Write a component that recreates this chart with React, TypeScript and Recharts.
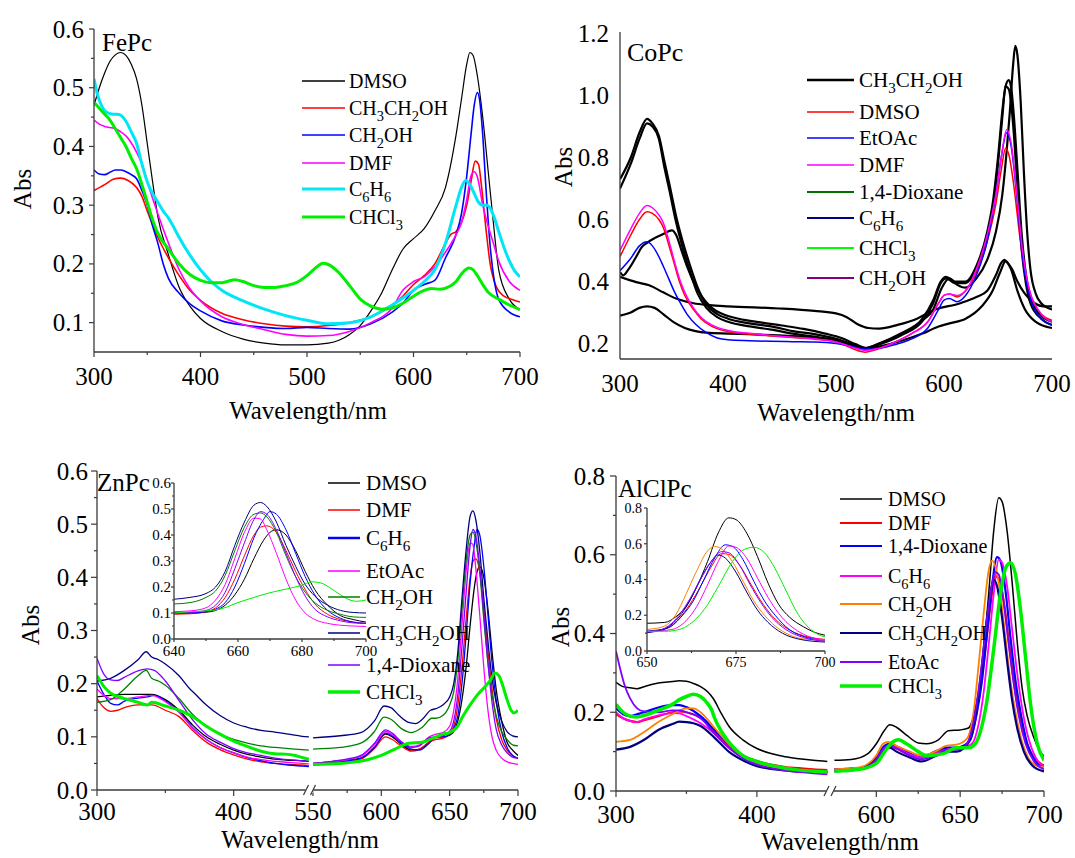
import React from "react";
import { Line, LineChart, XAxis, YAxis } from "recharts";

type Pt = [number, number];

// ---------- FePc (wavelength nm, Abs) ----------
const feDMSO: Pt[] = [[300,0.47],[305,0.5],[310,0.525],[315,0.545],[320,0.556],[325,0.56],[330,0.555],[335,0.54],[340,0.515],[345,0.47],[350,0.405],[355,0.34],[360,0.28],[370,0.215],[380,0.16],[390,0.128],[400,0.107],[420,0.085],[440,0.072],[460,0.065],[480,0.062],[500,0.062],[520,0.065],[530,0.07],[540,0.08],[550,0.095],[560,0.12],[570,0.15],[580,0.19],[590,0.225],[600,0.243],[610,0.26],[620,0.29],[630,0.33],[640,0.42],[645,0.48],[650,0.54],[653,0.56],[656,0.555],[660,0.52],[665,0.45],[670,0.36],[675,0.27],[680,0.19],[690,0.14],[700,0.122]];
const feEtOH: Pt[] = [[300,0.325],[310,0.335],[318,0.344],[325,0.346],[332,0.342],[340,0.33],[345,0.315],[350,0.29],[360,0.245],[370,0.21],[380,0.18],[390,0.155],[400,0.138],[420,0.116],[440,0.105],[460,0.098],[480,0.094],[500,0.093],[520,0.095],[540,0.1],[560,0.11],[580,0.13],[590,0.145],[600,0.165],[610,0.18],[620,0.2],[630,0.235],[635,0.25],[640,0.255],[645,0.27],[650,0.3],[654,0.34],[658,0.375],[661,0.37],[664,0.33],[668,0.26],[672,0.2],[678,0.16],[685,0.145],[692,0.14],[700,0.135]];
const feMeOH: Pt[] = [[300,0.36],[305,0.353],[310,0.352],[315,0.356],[320,0.36],[325,0.36],[330,0.357],[335,0.352],[340,0.345],[345,0.325],[350,0.3],[355,0.265],[360,0.235],[365,0.2],[370,0.175],[380,0.15],[390,0.132],[400,0.12],[420,0.103],[440,0.096],[460,0.092],[480,0.09],[500,0.092],[520,0.09],[540,0.089],[560,0.098],[580,0.118],[590,0.133],[600,0.155],[610,0.165],[620,0.172],[630,0.21],[640,0.25],[645,0.285],[650,0.35],[654,0.42],[657,0.47],[660,0.492],[662,0.48],[665,0.42],[668,0.33],[672,0.23],[676,0.17],[680,0.14],[690,0.118],[700,0.11]];
const feDMF: Pt[] = [[300,0.445],[305,0.438],[310,0.434],[320,0.43],[325,0.425],[330,0.418],[340,0.39],[345,0.37],[350,0.34],[360,0.285],[370,0.235],[380,0.19],[390,0.158],[400,0.137],[420,0.11],[440,0.097],[460,0.088],[480,0.08],[500,0.077],[520,0.078],[540,0.085],[560,0.1],[580,0.125],[590,0.155],[600,0.17],[610,0.178],[620,0.195],[630,0.22],[640,0.25],[645,0.27],[650,0.31],[654,0.35],[657,0.357],[660,0.348],[665,0.3],[670,0.265],[675,0.235],[680,0.205],[690,0.17],[700,0.155]];
const feC6H6: Pt[] = [[300,0.515],[303,0.49],[307,0.47],[312,0.458],[318,0.455],[322,0.455],[326,0.452],[330,0.443],[335,0.425],[340,0.405],[345,0.37],[350,0.34],[355,0.32],[360,0.305],[365,0.29],[370,0.278],[375,0.262],[380,0.245],[390,0.215],[400,0.19],[410,0.17],[420,0.155],[440,0.137],[460,0.123],[480,0.112],[500,0.104],[520,0.098],[540,0.1],[560,0.11],[580,0.13],[600,0.155],[610,0.17],[620,0.19],[630,0.235],[640,0.3],[645,0.33],[649,0.342],[653,0.335],[657,0.32],[661,0.305],[665,0.3],[669,0.3],[672,0.295],[676,0.278],[680,0.255],[685,0.228],[690,0.205],[695,0.188],[700,0.178]];
const feCHCl3: Pt[] = [[300,0.475],[305,0.465],[310,0.455],[315,0.445],[320,0.43],[325,0.415],[330,0.4],[335,0.38],[340,0.362],[345,0.335],[350,0.305],[355,0.275],[360,0.252],[370,0.225],[380,0.2],[390,0.182],[400,0.172],[410,0.168],[420,0.168],[425,0.17],[432,0.173],[440,0.17],[450,0.163],[460,0.16],[470,0.16],[480,0.163],[490,0.168],[500,0.18],[510,0.196],[515,0.201],[520,0.199],[530,0.185],[540,0.163],[550,0.14],[560,0.128],[570,0.123],[580,0.125],[590,0.133],[600,0.145],[610,0.155],[617,0.158],[625,0.157],[632,0.16],[640,0.17],[646,0.185],[652,0.193],[656,0.19],[660,0.18],[665,0.165],[670,0.152],[680,0.14],[690,0.13],[700,0.122]];

// ---------- CoPc ----------
const coEtOH: Pt[] = [[300,0.73],[310,0.8],[318,0.88],[325,0.925],[330,0.91],[336,0.87],[341,0.79],[346,0.71],[352,0.61],[358,0.53],[365,0.45],[372,0.38],[380,0.325],[390,0.295],[400,0.28],[420,0.265],[440,0.255],[460,0.24],[480,0.23],[500,0.215],[515,0.198],[527,0.185],[540,0.2],[560,0.23],[580,0.28],[590,0.34],[597,0.4],[602,0.415],[610,0.4],[620,0.4],[630,0.45],[640,0.56],[645,0.65],[650,0.8],[654,0.95],[657,1.03],[660,1.05],[662,1.03],[665,0.92],[668,0.76],[672,0.55],[676,0.42],[680,0.35],[690,0.29],[700,0.27]];
const coDMSO: Pt[] = [[300,0.48],[310,0.55],[318,0.6],[325,0.625],[330,0.62],[336,0.6],[340,0.575],[345,0.52],[350,0.46],[355,0.4],[360,0.355],[368,0.31],[375,0.28],[385,0.255],[400,0.238],[420,0.23],[440,0.224],[460,0.219],[480,0.214],[500,0.205],[510,0.192],[520,0.177],[527,0.172],[535,0.178],[550,0.198],[570,0.232],[585,0.27],[595,0.33],[600,0.355],[605,0.36],[612,0.35],[620,0.37],[630,0.43],[640,0.53],[648,0.65],[653,0.76],[657,0.83],[660,0.81],[665,0.7],[670,0.55],[675,0.43],[680,0.36],[690,0.295],[700,0.275]];
const coEtOAc: Pt[] = [[300,0.435],[310,0.475],[318,0.515],[325,0.528],[330,0.515],[336,0.48],[340,0.45],[345,0.41],[350,0.37],[356,0.33],[362,0.295],[370,0.262],[380,0.235],[390,0.218],[400,0.212],[420,0.209],[440,0.207],[460,0.206],[480,0.205],[500,0.2],[515,0.19],[527,0.182],[540,0.185],[555,0.197],[570,0.215],[585,0.25],[595,0.31],[600,0.34],[605,0.345],[612,0.335],[620,0.355],[630,0.42],[640,0.53],[648,0.68],[653,0.8],[658,0.88],[662,0.84],[667,0.69],[672,0.5],[678,0.37],[690,0.28],[700,0.26]];
const coDMF: Pt[] = [[300,0.5],[310,0.57],[318,0.62],[325,0.645],[330,0.638],[336,0.615],[340,0.59],[345,0.535],[350,0.47],[355,0.41],[360,0.365],[368,0.315],[375,0.285],[385,0.26],[400,0.242],[420,0.233],[440,0.226],[460,0.22],[480,0.215],[500,0.205],[515,0.188],[527,0.178],[540,0.185],[555,0.205],[570,0.232],[585,0.27],[595,0.33],[600,0.355],[605,0.36],[612,0.355],[620,0.37],[630,0.44],[640,0.55],[648,0.68],[653,0.8],[658,0.89],[662,0.85],[667,0.7],[672,0.52],[678,0.39],[690,0.295],[700,0.27]];
const coDiox: Pt[] = [[300,0.7],[310,0.78],[318,0.86],[325,0.91],[330,0.9],[336,0.86],[341,0.77],[346,0.69],[352,0.59],[358,0.51],[365,0.43],[372,0.36],[380,0.315],[390,0.285],[400,0.27],[420,0.255],[440,0.245],[460,0.232],[480,0.222],[500,0.21],[515,0.195],[527,0.183],[540,0.197],[560,0.226],[580,0.272],[590,0.33],[597,0.395],[602,0.41],[610,0.395],[620,0.395],[630,0.44],[640,0.54],[645,0.63],[650,0.78],[654,0.93],[657,1.03],[660,1.02],[662,0.98],[665,0.86],[668,0.7],[672,0.5],[676,0.39],[680,0.33],[690,0.28],[700,0.26]];
const coC6H6: Pt[] = [[300,0.43],[303,0.42],[308,0.44],[315,0.48],[320,0.51],[325,0.525],[332,0.54],[340,0.553],[348,0.565],[352,0.55],[357,0.5],[362,0.45],[368,0.4],[375,0.355],[385,0.315],[395,0.295],[410,0.28],[430,0.268],[450,0.258],[470,0.247],[490,0.232],[505,0.218],[518,0.198],[527,0.186],[540,0.2],[560,0.232],[580,0.275],[590,0.31],[598,0.38],[605,0.41],[612,0.39],[620,0.38],[630,0.41],[640,0.47],[648,0.56],[654,0.68],[658,0.82],[661,0.95],[664,1.1],[666,1.16],[668,1.13],[671,0.98],[674,0.75],[677,0.56],[680,0.44],[685,0.36],[690,0.33],[700,0.31]];
const coCHCl3: Pt[] = [[300,0.415],[315,0.398],[327,0.388],[340,0.365],[352,0.345],[368,0.33],[383,0.324],[400,0.32],[447,0.313],[480,0.305],[500,0.297],[510,0.285],[520,0.262],[530,0.25],[540,0.248],[557,0.26],[575,0.28],[590,0.307],[615,0.33],[630,0.35],[640,0.37],[648,0.42],[653,0.46],[656,0.47],[659,0.46],[663,0.44],[668,0.4],[675,0.36],[684,0.33],[692,0.32],[700,0.32]];
const coMeOH: Pt[] = [[300,0.29],[310,0.3],[318,0.315],[325,0.32],[332,0.315],[340,0.295],[350,0.268],[360,0.25],[370,0.24],[380,0.235],[400,0.232],[420,0.23],[440,0.227],[460,0.224],[480,0.22],[500,0.21],[515,0.196],[527,0.182],[540,0.19],[560,0.208],[580,0.232],[595,0.255],[605,0.265],[620,0.28],[635,0.32],[645,0.37],[652,0.43],[657,0.465],[662,0.44],[668,0.37],[675,0.31],[685,0.27],[700,0.25]];

// ---------- ZnPc ----------
const znDMSO: Pt[] = [[300,0.175],[310,0.178],[320,0.18],[330,0.18],[340,0.18],[350,0.17],[360,0.15],[370,0.122],[380,0.1],[390,0.086],[400,0.075],[410,0.067],[420,0.062],[430,0.058],[440,0.056],[450,0.055],[455,0.054],[550,0.05],[570,0.055],[585,0.06],[595,0.08],[603,0.105],[608,0.1],[615,0.085],[622,0.075],[628,0.077],[635,0.09],[640,0.1],[645,0.1],[650,0.103],[653,0.11],[656,0.13],[659,0.17],[662,0.23],[665,0.31],[668,0.38],[670,0.41],[672,0.42],[675,0.4],[678,0.34],[681,0.26],[684,0.19],[688,0.13],[692,0.09],[696,0.075],[700,0.065]];
const znDMF: Pt[] = [[300,0.172],[305,0.155],[310,0.148],[315,0.15],[320,0.155],[330,0.16],[340,0.16],[350,0.15],[360,0.138],[370,0.112],[380,0.09],[390,0.076],[400,0.066],[410,0.058],[420,0.053],[430,0.05],[440,0.048],[450,0.047],[455,0.046],[550,0.047],[570,0.052],[585,0.058],[595,0.078],[603,0.1],[608,0.095],[615,0.082],[622,0.073],[628,0.077],[635,0.09],[640,0.095],[645,0.097],[650,0.105],[653,0.12],[656,0.16],[659,0.23],[662,0.32],[665,0.4],[667,0.43],[669,0.435],[672,0.41],[675,0.34],[678,0.26],[681,0.19],[684,0.135],[688,0.095],[692,0.075],[696,0.065],[700,0.06]];
const znC6H6: Pt[] = [[300,0.205],[305,0.18],[310,0.163],[315,0.16],[320,0.167],[330,0.173],[337,0.175],[342,0.178],[350,0.168],[360,0.147],[370,0.117],[380,0.095],[390,0.08],[400,0.07],[410,0.061],[420,0.055],[430,0.05],[440,0.047],[450,0.045],[455,0.044],[550,0.048],[570,0.053],[585,0.06],[595,0.08],[603,0.107],[608,0.102],[615,0.088],[622,0.077],[628,0.075],[635,0.088],[640,0.1],[645,0.1],[650,0.105],[653,0.115],[656,0.14],[659,0.2],[662,0.29],[665,0.39],[668,0.46],[670,0.49],[672,0.48],[675,0.42],[678,0.33],[681,0.24],[684,0.17],[688,0.11],[692,0.08],[696,0.065],[700,0.06]];
const znEtOAc: Pt[] = [[300,0.19],[305,0.178],[310,0.172],[320,0.172],[330,0.175],[340,0.178],[350,0.166],[360,0.146],[370,0.116],[380,0.095],[390,0.08],[400,0.07],[410,0.062],[420,0.057],[430,0.054],[440,0.052],[450,0.05],[455,0.049],[550,0.05],[570,0.055],[585,0.063],[595,0.085],[603,0.11],[608,0.104],[615,0.09],[622,0.082],[628,0.085],[635,0.1],[640,0.105],[645,0.108],[650,0.12],[653,0.15],[656,0.21],[659,0.31],[662,0.41],[665,0.465],[667,0.462],[669,0.42],[672,0.33],[675,0.23],[678,0.15],[681,0.1],[684,0.075],[688,0.06],[692,0.053],[696,0.05],[700,0.048]];
const znMeOH: Pt[] = [[300,0.165],[310,0.17],[320,0.19],[330,0.215],[336,0.225],[340,0.21],[345,0.205],[350,0.197],[360,0.172],[370,0.142],[380,0.12],[390,0.105],[400,0.095],[410,0.088],[420,0.083],[430,0.08],[440,0.078],[450,0.076],[455,0.075],[550,0.077],[570,0.08],[585,0.088],[595,0.11],[602,0.137],[607,0.133],[615,0.115],[622,0.108],[630,0.118],[637,0.135],[640,0.135],[645,0.14],[650,0.16],[653,0.185],[656,0.245],[659,0.34],[662,0.43],[665,0.48],[667,0.485],[669,0.47],[672,0.41],[675,0.32],[678,0.24],[681,0.18],[684,0.14],[688,0.11],[692,0.095],[696,0.085],[700,0.083]];
const znEtOH: Pt[] = [[300,0.205],[310,0.21],[320,0.225],[330,0.245],[336,0.26],[340,0.25],[345,0.245],[350,0.237],[360,0.215],[368,0.19],[372,0.18],[380,0.16],[390,0.14],[400,0.126],[410,0.118],[420,0.112],[430,0.109],[440,0.105],[450,0.101],[455,0.1],[550,0.098],[570,0.102],[585,0.108],[595,0.13],[602,0.158],[607,0.155],[613,0.14],[620,0.127],[625,0.125],[630,0.133],[636,0.15],[640,0.153],[645,0.16],[650,0.175],[653,0.2],[656,0.26],[659,0.36],[662,0.45],[665,0.515],[667,0.525],[669,0.51],[672,0.45],[675,0.36],[678,0.28],[681,0.21],[684,0.165],[688,0.13],[692,0.11],[696,0.102],[700,0.1]];
const znDiox: Pt[] = [[300,0.248],[305,0.218],[310,0.207],[315,0.206],[320,0.212],[330,0.224],[337,0.228],[342,0.225],[350,0.205],[360,0.168],[370,0.132],[380,0.105],[390,0.09],[400,0.078],[410,0.07],[420,0.065],[430,0.06],[440,0.057],[450,0.055],[455,0.054],[550,0.05],[570,0.056],[585,0.065],[595,0.088],[603,0.113],[608,0.107],[615,0.09],[622,0.08],[628,0.083],[635,0.098],[640,0.1],[645,0.102],[650,0.11],[653,0.13],[656,0.18],[659,0.27],[662,0.37],[665,0.46],[667,0.49],[669,0.48],[672,0.42],[675,0.33],[678,0.24],[681,0.165],[684,0.115],[688,0.085],[692,0.07],[696,0.062],[700,0.06]];
const znCHCl3: Pt[] = [[300,0.215],[305,0.195],[310,0.182],[320,0.172],[330,0.165],[337,0.16],[340,0.165],[350,0.158],[360,0.15],[370,0.138],[380,0.12],[390,0.105],[400,0.092],[410,0.082],[420,0.073],[430,0.068],[440,0.067],[445,0.065],[450,0.061],[455,0.058],[550,0.048],[570,0.05],[590,0.057],[600,0.065],[610,0.077],[620,0.088],[630,0.09],[640,0.1],[645,0.105],[650,0.108],[655,0.117],[660,0.14],[665,0.16],[670,0.178],[675,0.192],[680,0.207],[683,0.22],[686,0.215],[689,0.195],[692,0.17],[695,0.15],[697,0.145],[700,0.15]];

// ---------- AlClPc ----------
const alDMSO: Pt[] = [[300,0.276],[305,0.265],[310,0.262],[315,0.26],[320,0.265],[330,0.274],[340,0.278],[345,0.28],[350,0.279],[355,0.273],[360,0.265],[365,0.252],[369,0.235],[375,0.195],[380,0.165],[390,0.13],[400,0.108],[410,0.095],[420,0.087],[430,0.082],[440,0.078],[450,0.075],[575,0.078],[585,0.08],[595,0.095],[600,0.12],[605,0.155],[608,0.168],[612,0.162],[618,0.142],[625,0.122],[630,0.12],[637,0.13],[643,0.153],[650,0.155],[655,0.16],[658,0.19],[661,0.25],[664,0.36],[667,0.5],[670,0.66],[673,0.745],[675,0.735],[678,0.66],[681,0.53],[684,0.38],[687,0.26],[690,0.19],[694,0.135],[697,0.105],[700,0.088]];
const alDMF: Pt[] = [[300,0.195],[305,0.185],[310,0.178],[315,0.175],[320,0.18],[330,0.19],[340,0.2],[345,0.202],[350,0.2],[360,0.185],[370,0.15],[380,0.115],[390,0.09],[400,0.076],[410,0.067],[420,0.061],[430,0.058],[440,0.055],[450,0.053],[575,0.055],[590,0.058],[600,0.082],[605,0.11],[608,0.115],[612,0.108],[620,0.092],[627,0.085],[635,0.095],[642,0.108],[648,0.108],[652,0.112],[656,0.13],[659,0.18],[662,0.26],[665,0.36],[668,0.47],[671,0.545],[673,0.54],[676,0.48],[679,0.38],[682,0.28],[685,0.2],[689,0.13],[694,0.085],[700,0.065]];
const alDiox: Pt[] = [[300,0.21],[305,0.195],[310,0.19],[315,0.195],[320,0.2],[330,0.212],[340,0.218],[345,0.218],[350,0.213],[360,0.19],[370,0.155],[380,0.12],[390,0.09],[400,0.072],[410,0.062],[420,0.056],[430,0.052],[440,0.05],[450,0.048],[575,0.055],[590,0.058],[600,0.085],[605,0.115],[608,0.12],[612,0.113],[620,0.095],[627,0.085],[635,0.1],[642,0.11],[648,0.11],[652,0.115],[656,0.13],[660,0.2],[663,0.28],[666,0.4],[669,0.52],[672,0.594],[674,0.585],[677,0.51],[680,0.39],[683,0.28],[686,0.2],[690,0.12],[695,0.075],[700,0.06]];
const alC6H6: Pt[] = [[300,0.2],[305,0.185],[310,0.178],[315,0.175],[320,0.182],[330,0.192],[340,0.198],[345,0.197],[350,0.19],[360,0.172],[370,0.145],[380,0.11],[390,0.085],[400,0.07],[410,0.06],[420,0.055],[430,0.052],[440,0.05],[450,0.048],[575,0.055],[590,0.058],[600,0.08],[605,0.11],[609,0.118],[613,0.11],[620,0.093],[627,0.085],[635,0.095],[642,0.105],[648,0.108],[653,0.112],[657,0.12],[661,0.17],[664,0.25],[667,0.37],[670,0.5],[673,0.588],[675,0.58],[678,0.52],[681,0.41],[684,0.3],[687,0.21],[691,0.13],[695,0.085],[700,0.062]];
const alMeOH: Pt[] = [[300,0.125],[310,0.13],[320,0.15],[330,0.175],[340,0.195],[350,0.21],[355,0.21],[360,0.2],[370,0.16],[380,0.12],[390,0.09],[400,0.072],[410,0.062],[420,0.056],[430,0.052],[440,0.05],[450,0.048],[575,0.055],[590,0.06],[600,0.09],[604,0.12],[607,0.125],[612,0.115],[620,0.1],[627,0.09],[635,0.1],[642,0.115],[648,0.118],[652,0.125],[655,0.14],[658,0.2],[661,0.32],[664,0.45],[667,0.56],[669,0.585],[671,0.57],[674,0.5],[677,0.39],[680,0.28],[683,0.2],[686,0.14],[690,0.09],[695,0.065],[700,0.06]];
const alEtOH: Pt[] = [[300,0.105],[310,0.112],[320,0.13],[330,0.155],[340,0.17],[345,0.176],[350,0.175],[355,0.172],[360,0.165],[370,0.135],[380,0.1],[390,0.078],[400,0.063],[410,0.056],[420,0.052],[430,0.05],[440,0.048],[450,0.047],[575,0.05],[590,0.055],[600,0.08],[605,0.105],[608,0.11],[612,0.1],[620,0.085],[627,0.075],[635,0.088],[642,0.1],[648,0.1],[652,0.108],[656,0.135],[659,0.19],[662,0.28],[665,0.4],[668,0.5],[670,0.537],[672,0.52],[675,0.44],[678,0.33],[681,0.23],[684,0.16],[688,0.1],[693,0.065],[700,0.05]];
const alEtOAc: Pt[] = [[300,0.355],[303,0.31],[306,0.27],[310,0.235],[315,0.21],[320,0.202],[330,0.2],[340,0.205],[345,0.205],[350,0.2],[360,0.185],[370,0.145],[380,0.11],[390,0.083],[400,0.067],[410,0.058],[420,0.052],[430,0.048],[440,0.045],[450,0.042],[575,0.052],[590,0.056],[600,0.08],[605,0.11],[608,0.115],[612,0.108],[620,0.09],[627,0.08],[635,0.09],[642,0.105],[648,0.105],[652,0.11],[656,0.14],[659,0.2],[662,0.29],[665,0.4],[668,0.5],[671,0.556],[673,0.55],[676,0.48],[679,0.37],[682,0.27],[685,0.19],[689,0.12],[694,0.075],[700,0.055]];
const alCHCl3: Pt[] = [[300,0.22],[305,0.2],[310,0.19],[315,0.188],[320,0.192],[330,0.205],[340,0.22],[345,0.232],[350,0.24],[355,0.246],[360,0.24],[365,0.222],[368,0.205],[370,0.185],[375,0.15],[380,0.125],[390,0.09],[400,0.075],[410,0.065],[420,0.058],[430,0.053],[440,0.05],[450,0.048],[575,0.05],[590,0.055],[600,0.07],[605,0.1],[610,0.125],[613,0.13],[618,0.12],[625,0.1],[630,0.09],[640,0.095],[648,0.11],[655,0.11],[659,0.12],[662,0.15],[666,0.23],[670,0.36],[674,0.5],[677,0.565],[680,0.58],[683,0.55],[686,0.46],[689,0.34],[692,0.22],[696,0.12],[700,0.078]];

// axis ticks
const feXMajor = [300, 400, 500, 600, 700];
const feXMinor = [350, 450, 550, 650];
const feYMajor = [0.1, 0.2, 0.3, 0.4, 0.5, 0.6];
const feYMinor = [0.15, 0.25, 0.35, 0.45, 0.55];
const coYMajor = [0.2, 0.4, 0.6, 0.8, 1.0, 1.2];
const znXMajor = [300, 400, 550, 600, 650, 700];
const znXMinor = [350, 575, 625, 675];
const znYMajor = [0, 0.1, 0.2, 0.3, 0.4, 0.5, 0.6];
const znYMinor = [0.05, 0.15, 0.25, 0.35, 0.45, 0.55];
const alXMajor = [300, 400, 600, 650, 700];
const alXMinor = [350, 625, 675];
const alYMajor = [0, 0.2, 0.4, 0.6, 0.8];
const alYMinor = [0.1, 0.3, 0.5, 0.7];
const znInXMajor = [640, 660, 680, 700];
const znInXMinor = [650, 670, 690];
const alInXMajor = [650, 675, 700];
const alInXMinor = [662.5, 687.5];

const SERIF = "Liberation Serif, DejaVu Serif, Times New Roman, serif";
const AXIS = "#3a3a3a";
const CYAN = "#00e6f6";
const GREEN = "#00ee00";

// broken x axes: left part kept, right part shifted next to it
const znU = (x: number) => (x < 500 ? x - 300 : 158 + (x - 550));
const alU = (x: number) => (x < 500 ? x - 300 : 155 + (x - 575) * 1.19);
const idU = (x: number) => x;

type Box = { left: number; top: number; width: number; height: number };
type Seg = { id: string; pts: Pt[]; color: string; width: number };
type Entry = { label: string; pts: Pt[]; color: string; width: number; key?: string; keyWidth?: number };

const FE: Box = { left: 94, top: 29, width: 426, height: 323 };
const CO: Box = { left: 620, top: 32, width: 432, height: 327 };
const ZN: Box = { left: 97, top: 471, width: 421, height: 319 };
const AL: Box = { left: 616, top: 476, width: 428, height: 315 };
const ZNI: Box = { left: 174, top: 483, width: 192, height: 156 };
const ALI: Box = { left: 647, top: 508, width: 178, height: 143 };

const feList: Entry[] = [
  { label: "DMSO", pts: feDMSO, color: "#000", width: 1.2 },
  { label: "CH3CH2OH", pts: feEtOH, color: "#ff0000", width: 1.6 },
  { label: "CH2OH", pts: feMeOH, color: "#0000ff", width: 1.6 },
  { label: "DMF", pts: feDMF, color: "#ff00ff", width: 1.6 },
  { label: "C6H6", pts: feC6H6, color: CYAN, width: 3 },
  { label: "CHCl3", pts: feCHCl3, color: GREEN, width: 3 },
];
const coList: Entry[] = [
  { label: "CH3CH2OH", pts: coEtOH, color: "#000", width: 2.2, keyWidth: 2.6 },
  { label: "DMSO", pts: coDMSO, color: "#ff0000", width: 1.5 },
  { label: "EtOAc", pts: coEtOAc, color: "#0000ff", width: 1.5 },
  { label: "DMF", pts: coDMF, color: "#ff00ff", width: 1.5 },
  { label: "1,4-Dioxane", pts: coDiox, color: "#000", width: 2.2, key: "#006f00", keyWidth: 1.8 },
  { label: "C6H6", pts: coC6H6, color: "#000", width: 2.2, key: "#000080", keyWidth: 1.8 },
  { label: "CHCl3", pts: coCHCl3, color: "#000", width: 2.2, key: "#00ff00", keyWidth: 1.8 },
  { label: "CH2OH", pts: coMeOH, color: "#000", width: 2.2, key: "#800080", keyWidth: 2.2 },
];
const znList: Entry[] = [
  { label: "DMSO", pts: znDMSO, color: "#000", width: 1.3 },
  { label: "DMF", pts: znDMF, color: "#ff0000", width: 1.3 },
  { label: "C6H6", pts: znC6H6, color: "#0000ff", width: 1.3, keyWidth: 2.5 },
  { label: "EtOAc", pts: znEtOAc, color: "#ff00ff", width: 1.3 },
  { label: "CH2OH", pts: znMeOH, color: "#008000", width: 1.3 },
  { label: "CH3CH2OH", pts: znEtOH, color: "#000080", width: 1.3 },
  { label: "1,4-Dioxane", pts: znDiox, color: "#8000ff", width: 1.3 },
  { label: "CHCl3", pts: znCHCl3, color: GREEN, width: 3, keyWidth: 3.5 },
];
const alList: Entry[] = [
  { label: "DMSO", pts: alDMSO, color: "#000", width: 1.5 },
  { label: "DMF", pts: alDMF, color: "#ff0000", width: 2.2 },
  { label: "1,4-Dioxane", pts: alDiox, color: "#0000ff", width: 2.2 },
  { label: "C6H6", pts: alC6H6, color: "#ff00ff", width: 1.8 },
  { label: "CH2OH", pts: alMeOH, color: "#ff8000", width: 1.8 },
  { label: "CH3CH2OH", pts: alEtOH, color: "#000080", width: 2.2 },
  { label: "EtoAc", pts: alEtOAc, color: "#8000ff", width: 1.8 },
  { label: "CHCl3", pts: alCHCl3, color: GREEN, width: 3.5 },
];

function segs(list: Entry[], map: (x: number) => number, broken: boolean, w?: number): Seg[] {
  const out: Seg[] = [];
  list.forEach((e, i) => {
    const parts = broken ? [e.pts.filter((p) => p[0] < 500), e.pts.filter((p) => p[0] > 500)] : [e.pts];
    parts.forEach((pts, j) =>
      out.push({ id: `${e.label}-${i}-${j}`, pts: pts.map(([x, y]) => [map(x), y] as Pt), color: e.color, width: w ?? e.width })
    );
  });
  return out;
}

const near = (list: number[], v: number) => list.some((m) => Math.abs(m - v) < 1e-6);

const YW = 80, MT = 20, MR = 30, XH = 50;
const txt = { fontFamily: SERIF, fill: "#000" } as const;

type PlotProps = {
  box: Box; xDomain: [number, number]; yDomain: [number, number];
  xMajor: number[]; xMinor: number[]; yMajor: number[]; yMinor: number[];
  xText: (v: number) => string; yText: (v: number) => string;
  data: Seg[]; fs: number; tMaj: number; tMin: number; xGap: number; yGap: number; frame: boolean;
};

function Plot(p: PlotProps) {
  const W = YW + p.box.width + MR;
  const H = MT + p.box.height + XH;
  const xTick = (t: any) => {
    const v = t.payload.value;
    const maj = near(p.xMajor, v);
    return (
      <g>
        {p.tMaj > 0 && <line x1={t.x} x2={t.x} y1={t.y} y2={t.y + (maj ? p.tMaj : p.tMin)} stroke={AXIS} strokeWidth={1.2} />}
        {maj && (
          <text x={t.x} y={t.y + p.xGap} textAnchor="middle" fontSize={p.fs} style={{ fontFamily: SERIF }} fill="#000">
            {p.xText(v)}
          </text>
        )}
      </g>
    );
  };
  const yTick = (t: any) => {
    const v = t.payload.value;
    const maj = near(p.yMajor, v);
    return (
      <g>
        {p.tMaj > 0 && <line x1={t.x} x2={t.x - (maj ? p.tMaj : p.tMin)} y1={t.y} y2={t.y} stroke={AXIS} strokeWidth={1.2} />}
        {maj && (
          <text x={t.x - p.yGap} y={t.y + p.fs * 0.34} textAnchor="end" fontSize={p.fs} style={{ fontFamily: SERIF }} fill="#000">
            {p.yText(v)}
          </text>
        )}
      </g>
    );
  };
  return (
    <div style={{ position: "absolute", left: p.box.left - YW, top: p.box.top - MT }}>
      <LineChart width={W} height={H} margin={{ top: MT, right: MR, left: 0, bottom: 0 }}>
        <XAxis type="number" dataKey="x" domain={p.xDomain} allowDataOverflow ticks={[...p.xMajor, ...p.xMinor]} interval={0}
          height={XH} tickSize={0} tickMargin={0} tickLine={false} tick={xTick} axisLine={{ stroke: AXIS, strokeWidth: 1.3 }} />
        <YAxis type="number" domain={p.yDomain} allowDataOverflow ticks={[...p.yMajor, ...p.yMinor]} interval={0}
          width={YW} tickSize={0} tickMargin={0} tickLine={false} tick={yTick} axisLine={{ stroke: AXIS, strokeWidth: 1.3 }} />
        {p.frame && (
          <XAxis xAxisId="top" orientation="top" type="number" domain={p.xDomain} height={0} tick={false} tickLine={false}
            axisLine={{ stroke: AXIS, strokeWidth: 1.3 }} />
        )}
        {p.frame && (
          <YAxis yAxisId="right" orientation="right" type="number" domain={p.yDomain} width={0} tick={false} tickLine={false}
            axisLine={{ stroke: AXIS, strokeWidth: 1.3 }} />
        )}
        {p.data.map((s) => (
          <Line key={s.id} name={s.id} data={s.pts.map(([x, y]) => ({ x, y }))} dataKey="y" type="monotone" dot={false}
            stroke={s.color} strokeWidth={s.width} strokeLinejoin="round" isAnimationActive={false} />
        ))}
      </LineChart>
    </div>
  );
}

function chem(label: string, fs: number) {
  const parts = label.split(/(?<=[A-Za-z])(\d+)/);
  const sh = fs * 0.3;
  return parts.map((s, i) =>
    i % 2 ? (
      <tspan key={i} dy={sh} fontSize={fs * 0.72}>{s}</tspan>
    ) : (
      <tspan key={i} dy={i ? -sh : 0}>{s}</tspan>
    )
  );
}

function Legend({ list, rows, x1, x2, tx, fs }: { list: Entry[]; rows: number[]; x1: number; x2: number; tx: number; fs: number }) {
  return (
    <g>
      {list.map((e, i) => (
        <g key={e.label}>
          <line x1={x1} x2={x2} y1={rows[i]} y2={rows[i]} stroke={e.key ?? e.color} strokeWidth={e.keyWidth ?? Math.max(e.width, 1.5)} />
          <text x={tx} y={rows[i] + fs * 0.34} fontSize={fs} style={{ fontFamily: SERIF }} fill="#000">{chem(e.label, fs)}</text>
        </g>
      ))}
    </g>
  );
}

function Titles() {
  const abs = (x: number, y: number) => (
    <text x={x} y={y + 9} fontSize={25} textAnchor="middle" transform={`rotate(-90 ${x} ${y})`} style={{ fontFamily: SERIF }} fill="#000">Abs</text>
  );
  const wl = (x: number, y: number) => (
    <text x={x} y={y} fontSize={25} textAnchor="middle" style={{ fontFamily: SERIF }} fill="#000">Wavelength/nm</text>
  );
  const brk = (cx: number, y: number) => (
    <g>
      <rect x={cx - 4} y={y - 3} width={8} height={6} fill="#fff" />
      <line x1={cx - 6} y1={y + 5} x2={cx - 1} y2={y - 5} stroke={AXIS} strokeWidth={1.2} />
      <line x1={cx + 1} y1={y + 5} x2={cx + 6} y2={y - 5} stroke={AXIS} strokeWidth={1.2} />
    </g>
  );
  return (
    <svg width={1075} height={858} style={{ position: "absolute", left: 0, top: 0, pointerEvents: "none" }}>
      {abs(22, 189)}
      {abs(563, 167)}
      {abs(30, 625)}
      {abs(560, 627)}
      {wl(308, 419)}
      {wl(836, 421)}
      {wl(300, 848)}
      {wl(840, 850)}
      <text x={102} y={51} fontSize={25} style={{ fontFamily: SERIF }} fill="#000">FePc</text>
      <text x={627} y={61} fontSize={26} style={{ fontFamily: SERIF }} fill="#000">CoPc</text>
      <text x={97} y={491} fontSize={25} style={{ fontFamily: SERIF }} fill="#000">ZnPc</text>
      <text x={618} y={497} fontSize={25} style={{ fontFamily: SERIF }} fill="#000">AlClPc</text>
      {brk(309.5, ZN.top + ZN.height)}
      {brk(830, AL.top + AL.height)}
      <Legend list={feList} rows={[81, 108, 135, 163, 189, 217]} x1={302} x2={345} tx={349} fs={20} />
      <Legend list={coList} rows={[80, 112, 138, 165, 192, 218, 248, 278]} x1={807} x2={854} tx={859} fs={21} />
      <Legend list={znList} rows={[483, 510, 538, 571, 597, 633, 665, 692]} x1={328} x2={360} tx={366} fs={21} />
      <Legend list={alList} rows={[499, 523, 546, 576, 604, 633, 662, 686]} x1={840} x2={882} tx={888} fs={20} />
    </svg>
  );
}

const fmt1 = (v: number) => v.toFixed(1);
const label = (majors: number[], map: (x: number) => number) => (u: number) => {
  const hit = majors.find((m) => Math.abs(map(m) - u) < 1e-6);
  return hit === undefined ? "" : String(hit);
};

export default function App() {
  return (
    <div style={{ position: "absolute", left: 0, top: 0, width: 1075, height: 858, background: "#fff", fontFamily: SERIF, overflow: "hidden" }}>
      <Plot box={FE} xDomain={[300, 700]} yDomain={[0.05, 0.6]} xMajor={feXMajor} xMinor={feXMinor} yMajor={feYMajor} yMinor={feYMinor}
        xText={(v) => String(v)} yText={fmt1} data={segs(feList, idU, false)} fs={25} tMaj={5} tMin={3} xGap={33} yGap={10} frame />
      <Plot box={CO} xDomain={[300, 700]} yDomain={[0.15, 1.205]} xMajor={feXMajor} xMinor={[]} yMajor={coYMajor} yMinor={[]}
        xText={(v) => String(v)} yText={fmt1} data={[...segs(coList.filter((e) => e.color === "#000"), idU, false), ...segs(coList.filter((e) => e.color !== "#000"), idU, false)]}
        fs={25} tMaj={0} tMin={0} xGap={33} yGap={11} frame />
      <Plot box={ZN} xDomain={[0, 308]} yDomain={[0, 0.6]} xMajor={znXMajor.map(znU)} xMinor={znXMinor.map(znU)} yMajor={znYMajor} yMinor={znYMinor}
        xText={label(znXMajor, znU)} yText={fmt1} data={segs(znList, znU, true)} fs={25} tMaj={6} tMin={3} xGap={30} yGap={9} frame />
      <Plot box={AL} xDomain={[0, 303.75]} yDomain={[0, 0.8]} xMajor={alXMajor.map(alU)} xMinor={alXMinor.map(alU)} yMajor={alYMajor} yMinor={alYMinor}
        xText={label(alXMajor, alU)} yText={fmt1} data={segs(alList, alU, true)} fs={25} tMaj={6} tMin={3} xGap={32} yGap={11} frame />
      <Plot box={ZNI} xDomain={[640, 700]} yDomain={[0, 0.6]} xMajor={znInXMajor} xMinor={znInXMinor} yMajor={znYMajor} yMinor={znYMinor}
        xText={(v) => String(v)} yText={fmt1} data={segs(znList, idU, false, 1)} fs={15} tMaj={3} tMin={2} xGap={17} yGap={3} frame={false} />
      <Plot box={ALI} xDomain={[650, 700]} yDomain={[0, 0.8]} xMajor={alInXMajor} xMinor={alInXMinor} yMajor={alYMajor} yMinor={alYMinor}
        xText={(v) => String(v)} yText={fmt1} data={segs(alList, idU, false, 1)} fs={14} tMaj={3} tMin={2} xGap={16} yGap={5} frame={false} />
      <Titles />
    </div>
  );
}
